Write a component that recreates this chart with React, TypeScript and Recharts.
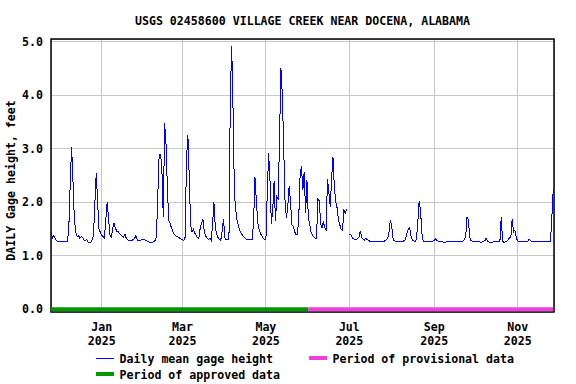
import { ComposedChart, Line, XAxis, YAxis, CartesianGrid, ReferenceArea } from 'recharts';

const startDate = '2024-11-25';
const approvedThrough = '2025-06-01';
const tickDates = ['2025-01-01', '2025-03-01', '2025-05-01', '2025-07-01', '2025-09-01', '2025-11-01'];
const tickMonths = ['Jan', 'Mar', 'May', 'Jul', 'Sep', 'Nov'];
const tickYear = '2025';
const yTicks = [0, 1, 2, 3, 4, 5];

// daily mean gage height, feet (one value per day from startDate, null = missing)
const gageHeight: (number | null)[] = [
    1.44, 1.33, 1.38, 1.32, 1.28, 1.27, 1.27, 1.27, 1.27, 1.27,
    1.27, 1.27, 1.27, 1.54, 2.35, 3.04, 2.40, 1.70, 1.45, 1.36,
    1.38, 1.33, 1.36, 1.34, 1.30, 1.28, 1.31, 1.26, 1.25, 1.24,
    1.30, 1.38, 1.97, 2.54, 2.02, 1.50, 1.44, 1.38, 1.36, 1.33,
    1.68, 2.00, 1.70, 1.40, 1.33, 1.50, 1.61, 1.52, 1.46, 1.45,
    1.42, 1.39, 1.37, 1.34, 1.41, 1.32, 1.30, 1.29, 1.29, 1.29,
    1.30, 1.32, 1.38, 1.30, 1.28, 1.28, 1.30, 1.31, 1.30, 1.29,
    1.28, 1.27, 1.25, 1.25, 1.25, 1.26, 1.29, 1.36, 2.14, 2.90,
    2.90, 2.61, 1.72, 3.48, 3.08, 2.27, 1.67, 1.60, 1.52, 1.45,
    1.40, 1.37, 1.36, 1.35, 1.33, 1.31, 1.30, 1.29, 1.35, 2.84,
    3.25, 2.44, 1.58, 1.45, 1.49, 1.42, 1.39, 1.34, 1.32, 1.52,
    1.62, 1.68, 1.45, 1.37, 1.33, 1.30, 1.33, 1.29, 1.58, 2.00,
    1.55, 1.40, 1.34, 1.30, 1.29, 1.46, 1.69, 1.34, 1.30, 1.30,
    1.30, 3.99, 4.91, 3.72, 2.15, 1.85, 1.65, 1.55, 1.47, 1.42,
    1.38, 1.35, 1.32, 1.30, 1.30, 1.30, 1.30, 1.30, 1.64, 2.47,
    2.05, 1.62, 1.50, 1.42, 1.37, 1.33, 1.30, 1.30, 2.18, 2.92,
    2.39, 1.60, 1.85, 2.39, 1.65, 2.10, 2.05, 3.26, 4.50, 4.01,
    3.04, 2.02, 1.70, 1.93, 2.30, 2.02, 1.58, 1.55, 1.45, 1.40,
    1.40, 1.70, 2.50, 2.67, 2.23, 2.57, 1.80, 2.42, 1.73, 1.58,
    1.45, 1.38, 1.35, 1.33, 1.33, 2.06, 2.03, 1.60, 1.52, 1.64,
    1.52, 1.49, 2.43, 2.20, 1.92, 2.42, 2.85, 2.30, 2.02, 1.90,
    1.67, 1.58, 1.49, 1.48, 1.85, 1.80, 1.87, null, 1.40, 1.40,
    1.34, 1.32, 1.30, 1.31, 1.32, 1.35, 1.47, 1.34, 1.31, 1.29,
    1.33, 1.30, 1.29, 1.27, 1.27, 1.27, 1.27, 1.27, 1.27, 1.27,
    1.27, 1.27, 1.27, 1.27, 1.28, 1.30, 1.32, 1.45, 1.67, 1.55,
    1.30, 1.28, 1.27, 1.27, 1.27, 1.27, 1.27, 1.27, 1.28, 1.30,
    1.42, 1.50, 1.52, 1.38, 1.30, 1.28, 1.27, 1.30, 1.62, 2.03,
    1.85, 1.42, 1.27, 1.27, 1.27, 1.27, 1.27, 1.27, 1.27, 1.27,
    1.29, 1.32, 1.29, 1.27, 1.27, 1.26, 1.26, 1.25, 1.25, 1.26,
    1.27, 1.27, 1.26, 1.26, 1.27, 1.27, 1.27, 1.27, 1.26, 1.27,
    1.27, 1.27, 1.30, 1.36, 1.73, 1.67, 1.35, 1.28, 1.27, 1.27,
    1.27, 1.27, 1.27, 1.26, 1.25, 1.26, 1.27, 1.28, 1.33, 1.27,
    1.26, 1.25, 1.25, 1.26, 1.26, 1.26, 1.26, 1.26, 1.26, 1.72,
    1.27, 1.25, 1.26, 1.27, 1.30, 1.33, 1.35, 1.69, 1.45, 1.48,
    1.33, 1.28, 1.27, 1.27, 1.27, 1.27, 1.27, 1.27, 1.26, 1.30,
    1.30, 1.27, 1.26, 1.26, 1.26, 1.26, 1.27, 1.26, 1.26, 1.26,
    1.26, 1.27, 1.26, 1.27, 1.26, 1.27, 1.73, 2.24,
];

const dayIndex = (iso: string) => Math.round((Date.parse(iso) - Date.parse(startDate)) / 86400000);

const approvedDay = dayIndex(approvedThrough);
const tickDays = tickDates.map(dayIndex);

const chartData = gageHeight.map((v, i) => ({
    day: i,
    gage: v,
    approved: i <= approvedDay ? 0 : null,
    provisional: i >= approvedDay ? 0 : null,
}));

const xDomain = [-0.05, 367.55];
const yDomain = [-0.05, 5.05];

const font = "'DejaVu Sans Mono', monospace";
const textStyle = { fontFamily: font, fontWeight: 'bold' as const, fontSize: 11.6, fill: '#000' };

const MonthTick = ({ x, y, payload }: any) => {
    const i = tickDays.indexOf(payload.value);
    return (
        <text textAnchor="middle" {...textStyle}>
            <tspan x={x} y={y + 19}>{tickMonths[i]}</tspan>
            <tspan x={x} y={y + 33}>{tickYear}</tspan>
        </text>
    );
};

export default function App() {
    return (
        <div style={{ position: 'absolute', left: 0, top: 0, width: 576, height: 384, background: '#fff' }}>
            <ComposedChart
                width={576}
                height={384}
                data={chartData}
                margin={{ top: 39, right: 22, bottom: 0, left: 0 }}
            >
                <CartesianGrid stroke="#c8c8c8" strokeWidth={1} shapeRendering="crispEdges" />
                <XAxis
                    dataKey="day"
                    type="number"
                    domain={xDomain}
                    ticks={tickDays}
                    height={72}
                    axisLine={false}
                    tickLine={false}
                    tickSize={0}
                    tickMargin={0}
                    tick={<MonthTick />}
                    interval={0}
                />
                <YAxis
                    type="number"
                    domain={yDomain}
                    ticks={yTicks}
                    width={51}
                    axisLine={false}
                    tickLine={false}
                    tickSize={0}
                    tickMargin={8}
                    tickFormatter={(v: number) => v.toFixed(1)}
                    tick={textStyle}
                    interval={0}
                />
                <Line
                    dataKey="approved"
                    stroke="#009a00"
                    strokeWidth={4}
                    dot={false}
                    strokeLinecap="butt"
                    isAnimationActive={false}
                />
                <Line
                    dataKey="provisional"
                    stroke="#f03ee0"
                    strokeWidth={4}
                    dot={false}
                    strokeLinecap="butt"
                    isAnimationActive={false}
                />
                <Line
                    dataKey="gage"
                    type="linear"
                    stroke="#0000ff"
                    strokeWidth={1}
                    dot={false}
                    shapeRendering="crispEdges"
                    isAnimationActive={false}
                />
                <ReferenceArea
                    x1={xDomain[0]}
                    x2={xDomain[1]}
                    y1={yDomain[0]}
                    y2={yDomain[1]}
                    fill="none"
                    fillOpacity={0}
                    stroke="#000"
                    strokeWidth={1.5}
                    ifOverflow="visible"
                />
            </ComposedChart>

            <svg width={576} height={384} style={{ position: 'absolute', left: 0, top: 0, pointerEvents: 'none' }}>
                <text x={302.5} y={25} textAnchor="middle" {...textStyle}>
                    USGS 02458600 VILLAGE CREEK NEAR DOCENA, ALABAMA
                </text>
                <text x={15} y={180.5} textAnchor="middle" transform="rotate(-90, 15, 180.5)" {...textStyle}>
                    DAILY Gage height, feet
                </text>

                <line x1={96} x2={114} y1={358.5} y2={358.5} stroke="#0000ff" strokeWidth={1} />
                <text x={119.5} y={362.5} {...textStyle}>Daily mean gage height</text>

                <line x1={309} x2={327} y1={358} y2={358} stroke="#f03ee0" strokeWidth={4} />
                <text x={332.5} y={362.5} {...textStyle}>Period of provisional data</text>

                <line x1={96} x2={114} y1={374} y2={374} stroke="#009a00" strokeWidth={4} />
                <text x={119.5} y={378.5} {...textStyle}>Period of approved data</text>
            </svg>
        </div>
    );
}
